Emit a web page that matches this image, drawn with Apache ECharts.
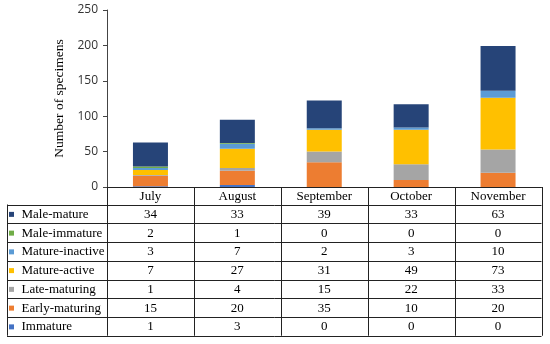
<!DOCTYPE html>
<html>
<head>
<meta charset="utf-8">
<script src="https://cdn.jsdelivr.net/npm/echarts@6/dist/echarts.min.js"></script>
<style>html,body{margin:0;padding:0;background:#fff}#c{width:550px;height:344px}</style>
</head>
<body>
<div id="c"></div>
<script>
const months = ['July', 'August', 'September', 'October', 'November'];
// table order (top to bottom)
const seriesNames = ['Male-mature', 'Male-immature', 'Mature-inactive', 'Mature-active', 'Late-maturing', 'Early-maturing', 'Immature'];
const maleMature = [34, 33, 39, 33, 63];
const maleImmature = [2, 1, 0, 0, 0];
const matureInactive = [3, 7, 2, 3, 10];
const matureActive = [7, 27, 31, 49, 73];
const lateMaturing = [1, 4, 15, 22, 33];
const earlyMaturing = [15, 20, 35, 10, 20];
const immature = [1, 3, 0, 0, 0];
const yTicks = [0, 50, 100, 150, 200, 250];
const tableValues = [maleMature, maleImmature, matureInactive, matureActive, lateMaturing, earlyMaturing, immature];
const colors = ['#264478', '#70AD47', '#5B9BD5', '#FFC000', '#A5A5A5', '#ED7D31', '#4472C4'];

const chart = echarts.init(document.getElementById('c'), null, {renderer: 'canvas'});

const gridLeft = 107, gridRight = 541.5, gridTop = 10, axisY = 187;
const tableLeft = 7, headerBottom = 204.5, rowH = 18.75;
const colW = (gridRight - gridLeft) / months.length;
const lineColor = '#222';
const serif = '"Liberation Serif", "Times New Roman", serif';

const series = [];
for (let i = seriesNames.length - 1; i >= 0; i--) {
  series.push({
    name: seriesNames[i],
    type: 'bar',
    stack: 'total',
    barWidth: 35,
    itemStyle: {color: colors[i]},
    data: tableValues[i]
  });
}

const graphics = [];
function hline(x1, x2, y) {
  graphics.push({type: 'line', silent: true, shape: {x1: x1, y1: y, x2: x2, y2: y}, style: {stroke: lineColor, lineWidth: 1}});
}
function vline(x, y1, y2) {
  graphics.push({type: 'line', silent: true, shape: {x1: x, y1: y1, x2: x, y2: y2}, style: {stroke: lineColor, lineWidth: 1}});
}
const tableBottom = headerBottom + rowH * seriesNames.length;
for (let r = 0; r <= seriesNames.length; r++) {
  hline(tableLeft, gridRight, Math.round(headerBottom + r * rowH) + 0.5);
}
vline(tableLeft + 0.5, headerBottom, tableBottom);
for (let c = 0; c <= months.length; c++) {
  vline(Math.round(gridLeft + c * colW) + 0.5, axisY, tableBottom);
}
seriesNames.forEach(function (name, r) {
  const cy = headerBottom + r * rowH + rowH / 2 + 0.5;
  graphics.push({type: 'rect', silent: true, shape: {x: 9, y: cy - 2.5, width: 5, height: 5}, style: {fill: colors[r]}});
  graphics.push({type: 'text', silent: true, x: 21.5, y: cy, style: {text: name, font: '13px ' + serif, fill: '#000', textVerticalAlign: 'middle', textAlign: 'left'}});
  tableValues[r].forEach(function (v, c) {
    graphics.push({type: 'text', silent: true, x: gridLeft + c * colW + colW / 2, y: cy, style: {text: String(v), font: '13px ' + serif, fill: '#000', textVerticalAlign: 'middle', textAlign: 'center'}});
  });
});

chart.setOption({
  animation: false,
  grid: {left: gridLeft, right: 550 - gridRight, top: gridTop, bottom: 344 - axisY, containLabel: false},
  xAxis: {
    type: 'category',
    data: months,
    axisLine: {show: true, lineStyle: {color: lineColor, width: 1}},
    axisTick: {show: false},
    axisLabel: {margin: 3, fontFamily: serif, fontSize: 13, color: '#000'}
  },
  yAxis: {
    type: 'value',
    min: 0, max: 250, interval: 50,
    name: 'Number of specimens',
    nameLocation: 'middle',
    nameGap: 40,
    nameTextStyle: {fontFamily: serif, fontSize: 13.5, color: '#000'},
    axisLine: {show: true, lineStyle: {color: '#444'}},
    axisTick: {show: true, length: 4, lineStyle: {color: '#444'}},
    splitLine: {show: false},
    axisLabel: {
      fontFamily: '"Open Sans", "Noto Sans", sans-serif', fontSize: 12, color: '#333', margin: 9,
      formatter: function (v) { return yTicks.indexOf(v) >= 0 ? String(v) : ''; }
    }
  },
  series: series,
  graphic: graphics
});
</script>
</body>
</html>
